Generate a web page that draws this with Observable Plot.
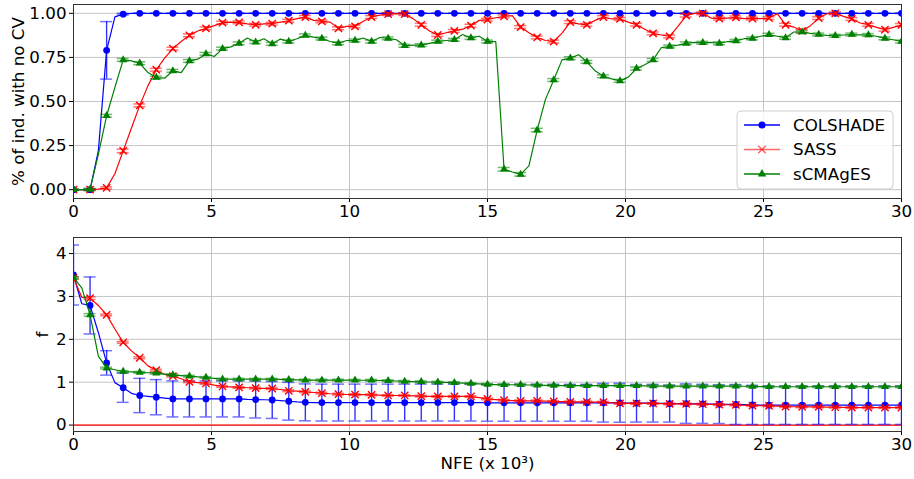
<!DOCTYPE html>
<html><head><meta charset="utf-8">
<script src="https://cdn.jsdelivr.net/npm/d3@7"></script>
<script src="https://cdn.jsdelivr.net/npm/@observablehq/plot@0.6"></script>
<style>
body{margin:0;background:#fff;}
#chart svg{display:block;background:#fff;}
#chart svg text{font-family:"DejaVu Sans",sans-serif;font-size:16.7px;}
</style>
</head><body><div id="chart"></div>
<script>
// ---- data ----
const series = ["COLSHADE", "SASS", "sCMAgES"];
const colors = ["#0000ff", "#ff0000", "#008000"];
const symbols = ["circle", "times", "triangle"];

const nfe = [0,0.3,0.6,0.9,1.2,1.5,1.8,2.1,2.4,2.7,3,3.3,3.6,3.9,4.2,4.5,4.8,5.1,5.4,5.7,6,6.3,6.6,6.9,7.2,7.5,7.8,8.1,8.4,8.7,9,9.3,9.6,9.9,10.2,10.5,10.8,11.1,11.4,11.7,12,12.3,12.6,12.9,13.2,13.5,13.8,14.1,14.4,14.7,15,15.3,15.6,15.9,16.2,16.5,16.8,17.1,17.4,17.7,18,18.3,18.6,18.9,19.2,19.5,19.8,20.1,20.4,20.7,21,21.3,21.6,21.9,22.2,22.5,22.8,23.1,23.4,23.7,24,24.3,24.6,24.9,25.2,25.5,25.8,26.1,26.4,26.7,27,27.3,27.6,27.9,28.2,28.5,28.8,29.1,29.4,29.7,30];

const xTicks = [0, 5, 10, 15, 20, 25, 30];
const topYTicks = [0, 0.25, 0.5, 0.75, 1];
const botYTicks = [0, 1, 2, 3, 4];

// top panel: % of individuals with no constraint violation
const topCOLSHADE = [0,0,0,0.22,0.79,0.98,0.995,1,1,1,
 1,1,1,1,1,1,1,1,1,1, 1,1,1,1,1,1,1,1,1,1, 1,1,1,1,1,1,1,1,1,1,
 1,1,1,1,1,1,1,1,1,1, 1,1,1,1,1,1,1,1,1,1, 1,1,1,1,1,1,1,1,1,1,
 1,1,1,1,1,1,1,1,1,1, 1,1,1,1,1,1,1,1,1,1, 1,1,1,1,1,1,1,1,1,1, 1];
const topSASS = [0,0,0,0.003,0.01,0.09,0.22,0.35,0.478,0.59,
 0.68,0.746,0.80,0.84,0.875,0.90,0.915,0.93,0.947,0.95,
 0.949,0.94,0.935,0.94,0.941,0.95,0.958,0.97,0.979,0.96,
 0.954,0.95,0.915,0.926,0.926,0.955,0.979,0.99,0.996,0.998,
 0.996,0.97,0.935,0.90,0.877,0.89,0.90,0.91,0.93,0.96,
 0.964,0.975,0.983,0.987,0.922,0.89,0.863,0.846,0.84,0.888,
 0.95,0.94,0.935,0.96,0.979,0.968,0.968,0.95,0.935,0.91,
 0.886,0.877,0.869,0.926,0.987,1.0,1.0,0.973,0.97,0.973,
 0.977,0.97,0.97,0.97,0.973,0.998,0.935,0.922,0.90,0.93,
 0.973,0.998,1.0,0.983,0.968,0.945,0.935,0.92,0.907,0.92,
 0.934];
const topSCMAGES = [0,0,0.002,0.2,0.419,0.58,0.736,0.73,0.717,0.664,
 0.636,0.632,0.674,0.664,0.73,0.74,0.77,0.755,0.80,0.81,
 0.83,0.86,0.837,0.856,0.827,0.854,0.84,0.856,0.875,0.865,
 0.857,0.84,0.83,0.846,0.846,0.86,0.84,0.863,0.858,0.85,
 0.816,0.82,0.82,0.83,0.84,0.846,0.85,0.88,0.86,0.87,
 0.84,0.84,0.116,0.10,0.087,0.135,0.338,0.512,0.622,0.736,
 0.746,0.765,0.725,0.674,0.643,0.628,0.617,0.638,0.687,0.708,
 0.736,0.806,0.812,0.82,0.83,0.835,0.833,0.835,0.83,0.84,
 0.844,0.856,0.858,0.87,0.879,0.87,0.861,0.894,0.894,0.886,
 0.88,0.875,0.873,0.877,0.88,0.878,0.877,0.87,0.858,0.85,
 0.84];
// std at marker positions (every 0.6)
const topCOLSHADEStd = [0,0.005,0.163,0.005,0,0,0,0,0,0, 0,0,0,0,0,0,0,0,0,0, 0,0,0,0,0,0,0,0,0,0, 0,0,0,0,0,0,0,0,0,0, 0,0,0,0,0,0,0,0,0,0, 0];
const topSASSStd = [0.004,0.004,0.006,0.01,0.008,0.008,0.008,0.008,0.008,0.008,
 0.008,0.008,0.008,0.008,0.008,0.008,0.008,0.008,0.008,0.008,
 0.008,0.008,0.008,0.008,0.008,0.008,0.008,0.008,0.008,0.008,
 0.008,0.008,0.008,0.008,0.008,0.008,0.008,0.008,0.008,0.008,
 0.008,0.008,0.008,0.008,0.008,0.008,0.008,0.008,0.008,0.008, 0.008];
const topSCMAGESStd = [0.004,0.006,0.008,0.008,0.008,0.008,0.008,0.008,0.008,0.008,
 0.008,0.008,0.008,0.008,0.008,0.008,0.008,0.008,0.008,0.008,
 0.008,0.008,0.008,0.008,0.008,0.008,0.01,0.01,0.01,0.008,
 0.008,0.008,0.008,0.008,0.008,0.008,0.008,0.008,0.008,0.008,
 0.008,0.008,0.008,0.008,0.008,0.008,0.008,0.008,0.008,0.008, 0.008];

// bottom panel: f
const botCOLSHADE = [3.5,2.83,2.79,2.16,1.45,0.99,0.87,0.74,0.69,0.67,
 0.65,0.63,0.61,0.61,0.61,0.61,0.61,0.61,0.61,0.61,
 0.61,0.60,0.595,0.59,0.585,0.57,0.555,0.54,0.53,0.525,
 0.525,0.525,0.525,0.525,0.525,0.525,0.525,0.525,0.525,0.525,
 0.525,0.525,0.525,0.525,0.525,0.525,0.525,0.525,0.525,0.525,
 0.52,0.52,0.52,0.52,0.52,0.52,0.52,0.52,0.52,0.52,
 0.52,0.52,0.52,0.52,0.52,0.52,0.52,0.515,0.51,0.51,
 0.51,0.505,0.50,0.50,0.50,0.497,0.495,0.49,0.486,0.483,
 0.48,0.475,0.47,0.466,0.463,0.463,0.463,0.463,0.463,0.463,
 0.463,0.463,0.463,0.463,0.463,0.463,0.463,0.463,0.463,0.463,
 0.463];
const botSASS = [3.43,2.98,2.96,2.79,2.57,2.24,1.93,1.73,1.57,1.38,
 1.28,1.18,1.14,1.08,1.01,0.99,0.97,0.93,0.90,0.89,
 0.877,0.87,0.86,0.858,0.853,0.83,0.80,0.79,0.776,0.76,
 0.745,0.73,0.72,0.713,0.71,0.708,0.706,0.698,0.69,0.69,
 0.69,0.683,0.675,0.67,0.667,0.667,0.667,0.667,0.667,0.64,
 0.61,0.595,0.58,0.572,0.565,0.565,0.565,0.558,0.55,0.545,
 0.54,0.54,0.54,0.537,0.533,0.52,0.505,0.505,0.505,0.505,
 0.505,0.50,0.494,0.494,0.494,0.49,0.486,0.482,0.478,0.474,
 0.47,0.462,0.455,0.451,0.447,0.44,0.43,0.427,0.424,0.424,
 0.424,0.42,0.416,0.412,0.408,0.408,0.408,0.408,0.408,0.408,
 0.408];
const botSCMAGES = [3.44,3.2,2.57,1.61,1.33,1.29,1.25,1.24,1.23,1.22,
 1.21,1.19,1.17,1.155,1.14,1.125,1.11,1.09,1.07,1.07,
 1.07,1.07,1.07,1.07,1.07,1.065,1.06,1.055,1.05,1.05,
 1.05,1.05,1.05,1.05,1.045,1.045,1.045,1.04,1.035,1.028,
 1.02,1.015,1.01,1.005,1.0,0.995,0.99,0.98,0.97,0.96,
 0.95,0.945,0.94,0.94,0.94,0.935,0.93,0.928,0.925,0.92,
 0.918,0.918,0.918,0.918,0.918,0.918,0.918,0.918,0.918,0.915,
 0.912,0.91,0.91,0.91,0.91,0.91,0.91,0.91,0.91,0.91,
 0.91,0.905,0.90,0.896,0.894,0.894,0.894,0.894,0.894,0.894,
 0.894,0.894,0.894,0.894,0.894,0.894,0.894,0.894,0.894,0.894,
 0.894];
const botCOLSHADEStd = [0.70,0.665,0.285,0.34,0.40,0.41,0.42,0.42,0.42,0.42,
 0.42,0.43,0.43,0.44,0.43,0.43,0.43,0.43,0.43,0.43,
 0.43,0.43,0.43,0.43,0.43,0.43,0.43,0.43,0.43,0.43,
 0.43,0.43,0.45,0.455,0.44,0.44,0.43,0.46,0.455,0.45,
 0.465,0.455,0.447,0.447,0.447,0.447,0.447,0.447,0.447,0.447, 0.447];
const botSASSStd = [0.03,0.03,0.02,0.02,0.02,0.02,0.02,0.02,0.02,0.02,
 0.02,0.02,0.02,0.02,0.02,0.02,0.02,0.02,0.02,0.02,
 0.02,0.02,0.02,0.02,0.02,0.02,0.02,0.02,0.02,0.02,
 0.02,0.02,0.02,0.02,0.02,0.02,0.02,0.02,0.02,0.02,
 0.02,0.02,0.02,0.02,0.02,0.02,0.02,0.02,0.02,0.02, 0.02];
const botSCMAGESStd = [0.02,0.03,0.02,0.02,0.02,0.02,0.02,0.02,0.02,0.02,
 0.02,0.02,0.02,0.02,0.02,0.02,0.02,0.02,0.02,0.02,
 0.02,0.02,0.02,0.02,0.02,0.02,0.02,0.02,0.02,0.02,
 0.02,0.02,0.02,0.02,0.02,0.02,0.02,0.02,0.02,0.02,
 0.02,0.02,0.02,0.02,0.02,0.02,0.02,0.02,0.02,0.02, 0.02];

// ---- drawing ----
const W = 914, ML = 73, MR = 13;
const pxPerUnit = (W - ML - MR) / 30;
const capHalf = 6 / pxPerUnit;
const radii = [3.4, 3.4, 3.0];
const FONT = "DejaVu Sans, sans-serif";

function seriesMarks(vals, std, k) {
  const line = nfe.map((x, i) => ({x, y: vals[i]}));
  const mk = [];
  for (let i = 0; i < nfe.length; i += 2) mk.push({x: nfe[i], y: vals[i], s: std[i / 2]});
  const c = colors[k];
  const dotStyle = k === 1 ? {stroke: c, strokeWidth: 1.4, fill: "none"} : {fill: c, stroke: "none"};
  return [
    Plot.ruleX(mk, {x: "x", y1: d => d.y - d.s, y2: d => d.y + d.s, stroke: c, strokeOpacity: 0.8, strokeWidth: 1.4, clip: true}),
    Plot.ruleY(mk, {y: d => d.y - d.s, x1: d => d.x - capHalf, x2: d => d.x + capHalf, stroke: c, strokeOpacity: 0.55, strokeWidth: 1.5, clip: true}),
    Plot.ruleY(mk, {y: d => d.y + d.s, x1: d => d.x - capHalf, x2: d => d.x + capHalf, stroke: c, strokeOpacity: 0.55, strokeWidth: 1.5, clip: true}),
    Plot.line(line, {x: "x", y: "y", stroke: c, strokeWidth: 1.2, clip: true}),
    Plot.dot(mk, {x: "x", y: "y", symbol: symbols[k], r: radii[k], ...dotStyle, clip: true})
  ];
}

function legendMark(index, scales, values, dims) {
  const g = d3.create("svg:g").attr("text-anchor", "start");
  const right = dims.width - dims.marginRight - 8;
  const bottom = dims.height - dims.marginBottom - 9;
  const w = 156, h = 78, left = right - w, top = bottom - h;
  g.append("rect").attr("x", left).attr("y", top).attr("width", w).attr("height", h)
    .attr("rx", 4).attr("fill", "white").attr("fill-opacity", 0.85).attr("stroke", "#d0d0d0");
  const symTypes = [d3.symbolCircle, d3.symbolTimes, d3.symbolTriangle];
  series.forEach((name, k) => {
    const cy = top + 14 + k * 24.5;
    const op = k === 1 ? 0.6 : 1;
    g.append("line").attr("x1", left + 7).attr("x2", left + 43).attr("y1", cy).attr("y2", cy)
      .attr("stroke", colors[k]).attr("stroke-width", 1.4).attr("stroke-opacity", op);
    const p = g.append("path").attr("transform", `translate(${left + 25},${cy})`)
      .attr("d", d3.symbol().type(symTypes[k]).size(Math.PI * radii[k] * radii[k] * 1.1)());
    if (k === 1) p.attr("fill", "none").attr("stroke", colors[k]).attr("stroke-width", 1.4).attr("stroke-opacity", op);
    else p.attr("fill", colors[k]);
    g.append("text").attr("x", left + 56).attr("y", cy).attr("dy", "0.35em")
      .attr("text-anchor", "start").attr("fill", "#000").text(name);
  });
  return g.node();
}

function commonMarks(yTicks, fmt) {
  return [
    Plot.gridX(xTicks, {stroke: "#c4c4c4", strokeOpacity: 1, strokeWidth: 1}),
    Plot.gridY(yTicks, {stroke: "#c4c4c4", strokeOpacity: 1, strokeWidth: 1}),
    Plot.axisX(xTicks, {tickSize: 4, tickPadding: 3, label: null}),
    Plot.axisY(yTicks, {tickSize: 4, tickPadding: 3, label: null, tickFormat: fmt})
  ];
}

const topChart = Plot.plot({
  width: W, height: 220, marginLeft: ML, marginRight: MR, marginTop: 4, marginBottom: 22,
  style: {fontFamily: FONT, fontSize: "16.7px", color: "#000", background: "#fff"},
  x: {domain: [0, 30]},
  y: {domain: [-0.05, 1.05]},
  marks: [
    ...commonMarks(topYTicks, d3.format(".2f")),
    Plot.text(["% of ind. with no CV"], {frameAnchor: "left", dx: -55, rotate: -90, textAnchor: "middle", fill: "#000"}),
    ...seriesMarks(topCOLSHADE, topCOLSHADEStd, 0),
    ...seriesMarks(topSASS, topSASSStd, 1),
    ...seriesMarks(topSCMAGES, topSCMAGESStd, 2),
    Plot.frame({stroke: "#333", strokeWidth: 1}),
    legendMark
  ]
});

const bottomChart = Plot.plot({
  width: W, height: 259, marginLeft: ML, marginRight: MR, marginTop: 17, marginBottom: 48,
  style: {fontFamily: FONT, fontSize: "16.7px", color: "#000", background: "#fff"},
  x: {domain: [0, 30]},
  y: {domain: [-0.15, 4.375]},
  marks: [
    ...commonMarks(botYTicks, d3.format("d")),
    Plot.text(["f"], {frameAnchor: "left", dx: -31, rotate: -90, textAnchor: "middle", fill: "#000"}),
    Plot.text(["NFE (x 10³)"], {frameAnchor: "bottom", dy: 37, textAnchor: "middle", fill: "#000"}),
    Plot.ruleY([0], {stroke: "#ff0000", strokeWidth: 1.3}),
    ...seriesMarks(botCOLSHADE, botCOLSHADEStd, 0),
    ...seriesMarks(botSASS, botSASSStd, 1),
    ...seriesMarks(botSCMAGES, botSCMAGESStd, 2),
    Plot.frame({stroke: "#333", strokeWidth: 1})
  ]
});

document.getElementById("chart").append(topChart, bottomChart);
</script>
</body></html>
